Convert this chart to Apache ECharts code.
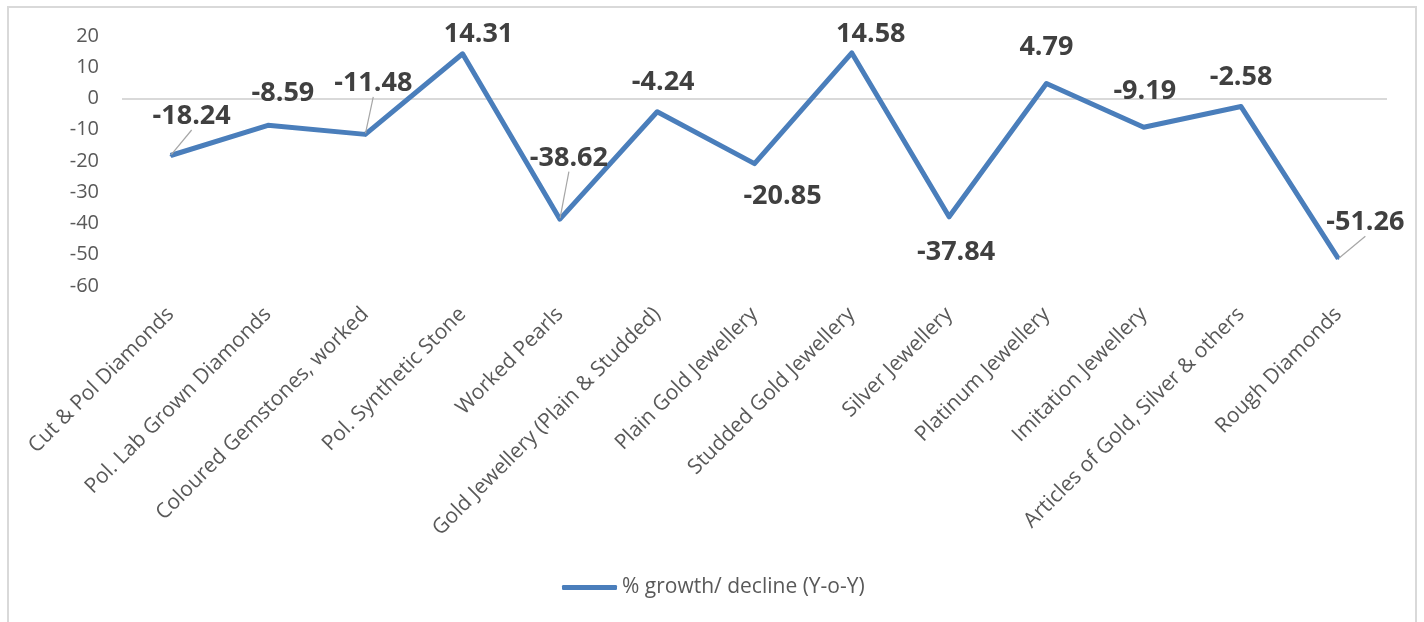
<!DOCTYPE html>
<html>
<head>
<meta charset="utf-8">
<title>% growth/ decline (Y-o-Y)</title>
<script src="https://cdn.jsdelivr.net/npm/echarts@6/dist/echarts.min.js"></script>
<style>
  html, body { margin: 0; padding: 0; background: #ffffff; }
  #chart { width: 1424px; height: 622px; }
</style>
</head>
<body>
<div id="chart"></div>
<script>
// Product categories along the x axis
const categories = [
  'Cut & Pol Diamonds',
  'Pol. Lab Grown Diamonds',
  'Coloured Gemstones, worked',
  'Pol. Synthetic Stone',
  'Worked Pearls',
  'Gold Jewellery (Plain & Studded)',
  'Plain Gold Jewellery',
  'Studded Gold Jewellery',
  'Silver Jewellery',
  'Platinum Jewellery',
  'Imitation Jewellery',
  'Articles of Gold, Silver & others',
  'Rough Diamonds'
];

// Year-on-year change, in percent
const growthValues = [-18.24, -8.59, -11.48, 14.31, -38.62, -4.24, -20.85, 14.58, -37.84, 4.79, -9.19, -2.58, -51.26];

const seriesName = '% growth/ decline (Y-o-Y)';

// Value axis range
const yMin = -60;
const yMax = 20;
const yStep = 10;

// Label placement relative to each point (pixels), and which labels get a leader line
const labelOffsets = [[21, -39], [15, -32], [8, -51], [16, -19], [9, -61], [6, -29], [28, 33], [19, -19], [7, 36], [0, -36], [1, -36], [0, -29], [27, -36]];
const withLeader = [true, false, true, false, true, false, false, false, false, false, false, false, true];

const FONT = '"Open Sans", "Liberation Sans", sans-serif';
const LINE_COLOR = '#4A7EBB';
const GRID_GREY = '#d9d9d9';

// Only the zero line is drawn among the horizontal split lines
const splitColors = [];
for (let v = yMin; v <= yMax; v += yStep) {
  splitColors.push(v === 0 ? GRID_GREY : 'rgba(0,0,0,0)');
}

const chart = echarts.init(document.getElementById('chart'), null, { renderer: 'canvas' });

const seriesData = growthValues.map((v, i) => ({
  value: v,
  labelLine: {
    show: withLeader[i],
    lineStyle: { color: '#a6a6a6', width: 1.2 }
  }
}));

chart.setOption({
  animation: false,
  backgroundColor: '#ffffff',
  textStyle: { fontFamily: FONT },
  graphic: [{
    type: 'rect',
    silent: true,
    shape: { x: 8, y: 7, width: 1408, height: 640 },
    style: { fill: 'none', stroke: GRID_GREY, lineWidth: 2 }
  }],
  grid: { left: 122, right: 37, top: 36, bottom: 336, containLabel: false },
  legend: {
    data: [seriesName],
    left: 562,
    top: 577,
    padding: 0,
    icon: 'roundRect',
    itemWidth: 55,
    itemHeight: 5,
    textStyle: { fontFamily: FONT, fontSize: 21, color: '#595959' }
  },
  xAxis: {
    type: 'category',
    data: categories,
    boundaryGap: true,
    axisLine: { show: false },
    axisTick: { show: false },
    splitLine: { show: false },
    axisLabel: {
      interval: 0,
      rotate: 45,
      margin: 25,
      fontFamily: FONT,
      fontSize: 21,
      color: '#595959'
    }
  },
  yAxis: {
    type: 'value',
    min: yMin,
    max: yMax,
    interval: yStep,
    axisLine: { show: false },
    axisTick: { show: false },
    splitLine: {
      show: true,
      lineStyle: { color: splitColors, width: 2, type: 'solid' }
    },
    axisLabel: {
      margin: 23,
      fontFamily: FONT,
      fontSize: 20,
      color: '#595959'
    }
  },
  series: [{
    name: seriesName,
    type: 'line',
    data: seriesData,
    symbol: 'circle',
    symbolSize: 2,
    itemStyle: { color: LINE_COLOR },
    lineStyle: { color: LINE_COLOR, width: 5, join: 'round' },
    label: {
      show: true,
      position: 'inside',
      align: 'center',
      verticalAlign: 'middle',
      fontFamily: FONT,
      fontWeight: 'bold',
      fontSize: 27,
      color: '#404040'
    },
    labelLayout: function (params) {
      const o = labelOffsets[params.dataIndex] || [0, 0];
      return { dx: o[0], dy: o[1] };
    },
    labelLine: { show: false },
    z: 3
  }]
});
</script>
</body>
</html>
